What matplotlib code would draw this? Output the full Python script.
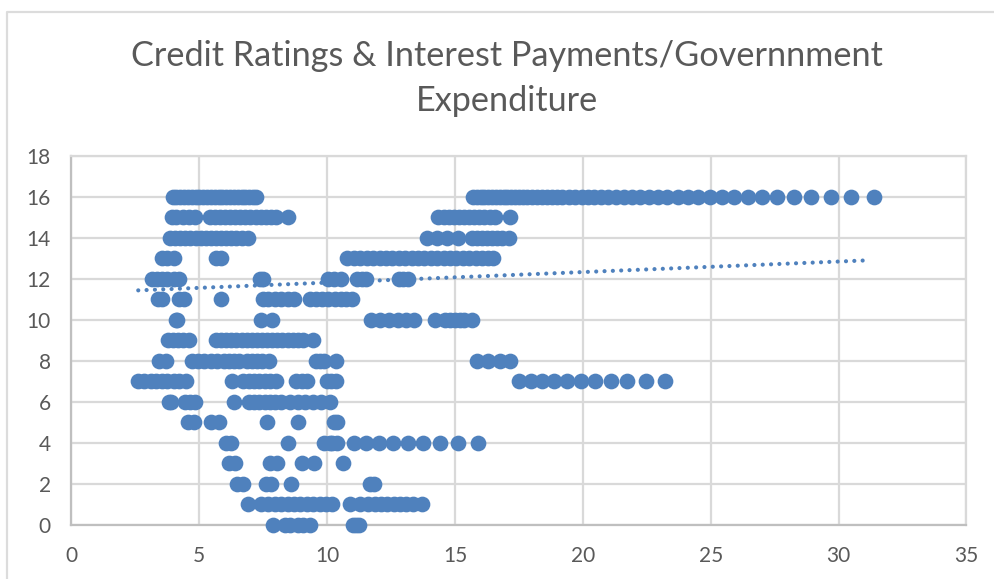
import numpy as np
from matplotlib import pyplot as plt
from matplotlib.lines import Line2D

# interest payments / gov expenditure, one list per rating
r16 = [3.95,4.1,4.25,4.4,4.55,4.7,4.85,5.0,5.15,5.3,5.45,5.6,5.75,5.9,6.05,6.2,6.35,6.5,6.65,6.8,6.95,7.1,7.2,
       15.7,15.85,16.0,16.15,16.3,16.45,16.6,16.75,16.9,17.05,17.2,17.35,17.5,17.65,17.8,18.0,18.2,18.4,18.6,18.8,
       19.0,19.2,19.45,19.7,19.95,20.2,20.45,20.7,21.0,21.3,21.6,21.9,22.25,22.6,22.95,23.3,23.7,24.1,24.5,24.97,
       25.42,25.9,26.44,27.0,27.6,28.24,28.93,29.7,30.5,31.37]
r15 = [3.92,4.1,4.35,4.6,4.83,5.43,5.6,5.8,6.0,6.2,6.4,6.6,6.8,7.0,7.2,7.4,7.6,7.8,8.0,8.47,
       14.35,14.55,14.75,14.95,15.15,15.35,15.55,15.75,15.95,16.15,16.35,16.58,17.13]
r14 = [3.85,4.05,4.25,4.45,4.65,4.85,5.05,5.25,5.45,5.65,5.85,6.05,6.25,6.45,6.65,6.89,
       13.9,14.3,14.7,15.1,15.66,15.85,16.05,16.25,16.45,16.65,16.85,17.1]
r13 = [3.55,3.75,4.02,5.65,5.85,10.77,11.05,11.3,11.55,11.8,12.05,12.3,12.55,12.8,13.05,13.3,13.55,13.8,14.05,
       14.3,14.55,14.8,15.05,15.3,15.55,15.8,16.05,16.3,16.5]
r12 = [3.15,3.35,3.55,3.75,4.0,4.2,7.37,7.47,10.05,10.25,10.53,11.15,11.35,11.52,12.8,12.95,13.16]
r11 = [3.39,3.52,4.19,4.41,5.84,7.48,7.7,7.95,8.2,8.45,8.69,9.32,9.55,9.8,10.05,10.3,10.55,10.75,10.97]
r10 = [4.07,4.14,7.42,7.85,11.71,12.05,12.4,12.75,13.1,13.4,14.2,14.6,14.8,15.0,15.2,15.35,15.67]
r9 = [3.76,3.95,4.15,4.35,4.59,5.64,5.85,6.05,6.25,6.45,6.65,6.85,7.05,7.25,7.45,7.65,7.85,8.05,8.25,8.45,8.65,
      8.85,9.05,9.44]
r8 = [3.44,3.68,4.71,4.95,5.2,5.45,5.7,5.95,6.15,6.35,6.55,6.85,7.05,7.25,7.45,7.72,9.57,9.72,9.88,10.36,
      15.85,16.3,16.75,17.15]
r7 = [2.62,2.85,3.1,3.3,3.55,3.75,4.0,4.2,4.47,6.27,6.7,6.95,7.15,7.35,7.55,7.75,8.0,8.77,9.0,9.2,9.99,10.15,10.35,
      17.49,17.95,18.39,18.87,19.38,19.93,20.49,21.1,21.74,22.45,23.19]
r6 = [3.82,3.9,4.44,4.65,4.84,6.36,6.95,7.15,7.35,7.55,7.75,7.95,8.2,8.55,8.85,9.15,9.45,9.75,10.11]
r5 = [4.57,4.79,5.46,5.77,7.66,8.85,10.25,10.4]
r4 = [6.05,6.25,8.48,9.87,10.1,10.2,10.38,11.03,11.52,12.02,12.58,13.16,13.76,14.42,15.13,15.9]
r3 = [6.14,6.4,7.77,8.03,9.03,9.5,10.61]
r2 = [6.46,6.72,7.6,7.8,8.59,11.69,11.82]
r1 = [6.92,7.4,7.7,7.95,8.2,8.45,8.7,8.95,9.2,9.45,9.7,9.95,10.19,10.9,11.3,11.6,11.85,12.1,12.35,12.6,12.85,13.1,
      13.35,13.71]
r0 = [7.89,8.35,8.55,8.85,9.05,9.34,11.0,11.12,11.25]
ratings = [r0,r1,r2,r3,r4,r5,r6,r7,r8,r9,r10,r11,r12,r13,r14,r15,r16]

trend_x = [2.61,31.08]
trend_y = [11.43,12.89]

title = "Credit Ratings & Interest Payments/Governnment\nExpenditure"
xticks = [0,5,10,15,20,25,30,35]
yticks = list(range(0,20,2))

azul = "#4f81bd"
gris = "#d9d9d9"
texto = "#595959"
W,H = 995,579

plt.rcParams['font.family'] = ['Lato','DejaVu Sans']
fig = plt.figure(figsize=(W/100,H/100),dpi=100)
ax = fig.add_axes([71.5/W,1-525/H,(966.5-71.5)/W,(525-155.5)/H])

for nota,xs in enumerate(ratings):
    ax.scatter(xs,[nota]*len(xs),s=128,color=azul,linewidths=0,zorder=3,clip_on=False)

# linea de tendencia punteada
ax.plot(trend_x,trend_y,color=azul,lw=3.0,linestyle=(0,(0.01,1.99)),dash_capstyle='round',zorder=4)

ax.set_xlim(0,35)
ax.set_ylim(0,18)
ax.set_xticks(xticks)
ax.set_yticks(yticks)
ax.grid(True,color=gris,lw=1.6,zorder=0)
ax.set_axisbelow(True)
ax.tick_params(length=0,labelsize=15,labelcolor=texto)
ax.tick_params(axis='x',pad=15)
ax.tick_params(axis='y',pad=15)
for lado in ['top','right']:
    ax.spines[lado].set_color(gris)
    ax.spines[lado].set_linewidth(1.6)
for lado in ['left','bottom']:
    ax.spines[lado].set_color("#bfbfbf")
    ax.spines[lado].set_linewidth(1.6)

fig.text(507/W,1-56/H,title.split("\n")[0],ha='center',va='center',fontsize=24.7,color=texto)
fig.text(507/W,1-101/H,title.split("\n")[1],ha='center',va='center',fontsize=24.7,color=texto)

# borde del grafico (arriba e izquierda)
fig.add_artist(Line2D([7.5/W,7.5/W,1],[0,1-11.5/H,1-11.5/H],color="#dcdcdc",lw=1.6))

fig.savefig("out.png",dpi=100)
